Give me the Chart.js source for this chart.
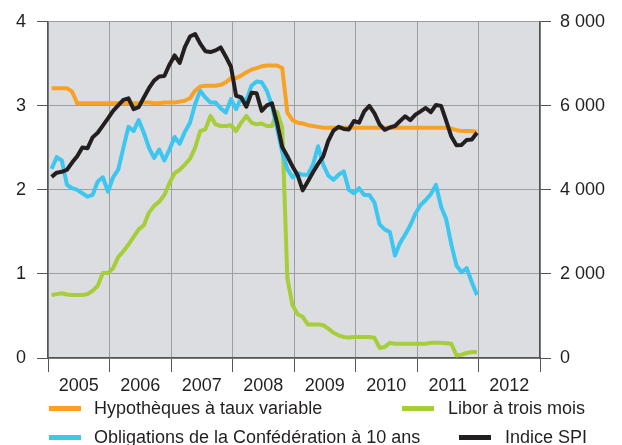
<!DOCTYPE html>
<html lang="fr">
<head>
<meta charset="utf-8">
<script src="https://cdn.jsdelivr.net/npm/chart.js@4.4.1/dist/chart.umd.min.js"></script>
<style>
  body { margin: 0; background: #fff; }
  #cadre { position: relative; width: 622px; height: 445px; }
  .legende { position: absolute; font: 18px "Liberation Sans", Arial, sans-serif; color: #231f20; white-space: nowrap; line-height: 20px; }
  .trait { position: absolute; width: 32px; height: 5px; }
</style>
</head>
<body>
<div id="cadre">
  <canvas id="graphique"></canvas>
</div>
<script>
// Données mensuelles, janvier 2005 à décembre 2011
const annees = ['2005', '2006', '2007', '2008', '2009', '2010', '2011', '2012'];

const hypotheques = [
  3.21, 3.21, 3.21, 3.21, 3.17, 3.03, 3.03, 3.03, 3.03, 3.03, 3.03, 3.03,
  3.03, 3.03, 3.03, 3.03, 3.03, 3.03, 3.04, 3.04, 3.03, 3.03, 3.04, 3.04,
  3.04, 3.05, 3.06, 3.09, 3.18, 3.23, 3.24, 3.24, 3.24, 3.25, 3.28, 3.33,
  3.33, 3.36, 3.40, 3.43, 3.45, 3.47, 3.48, 3.48, 3.48, 3.45, 2.92, 2.83,
  2.80, 2.79, 2.77, 2.76, 2.75, 2.74, 2.74, 2.74, 2.74, 2.74, 2.74, 2.74,
  2.74, 2.74, 2.74, 2.74, 2.74, 2.74, 2.74, 2.74, 2.74, 2.74, 2.74, 2.74,
  2.74, 2.74, 2.74, 2.74, 2.74, 2.74, 2.73, 2.71, 2.70, 2.70, 2.70, 2.69
];

const obligations = [
  2.25, 2.39, 2.35, 2.06, 2.02, 2.00, 1.96, 1.92, 1.94, 2.10, 2.15, 1.98,
  2.15, 2.24, 2.50, 2.75, 2.70, 2.83, 2.68, 2.50, 2.38, 2.48, 2.35, 2.48,
  2.63, 2.55, 2.69, 2.80, 3.02, 3.18, 3.10, 3.04, 3.04, 2.97, 2.92, 3.08,
  2.96, 3.10, 3.06, 3.24, 3.29, 3.28, 3.18, 3.00, 2.73, 2.45, 2.25, 2.15,
  2.20, 2.18, 2.18, 2.30, 2.52, 2.30, 2.17, 2.12, 2.18, 2.22, 2.00, 1.96,
  2.02, 1.94, 1.94, 1.85, 1.59, 1.53, 1.50, 1.22, 1.37, 1.47, 1.58, 1.72,
  1.82, 1.88, 1.95, 2.06, 1.80, 1.65, 1.35, 1.10, 1.02, 1.07, 0.90, 0.75
];

const libor = [
  0.75, 0.76, 0.77, 0.755, 0.75, 0.75, 0.75, 0.76, 0.80, 0.86, 1.01, 1.01,
  1.07, 1.20, 1.27, 1.35, 1.44, 1.53, 1.58, 1.73, 1.81, 1.86, 1.94, 2.08,
  2.20, 2.24, 2.30, 2.37, 2.50, 2.70, 2.72, 2.88, 2.78, 2.76, 2.76, 2.77,
  2.70, 2.80, 2.88, 2.80, 2.78, 2.79, 2.76, 2.76, 2.93, 2.74, 0.95, 0.63,
  0.52, 0.49, 0.40, 0.40, 0.40, 0.39, 0.35, 0.30, 0.27, 0.25, 0.245, 0.25,
  0.25, 0.25, 0.25, 0.24, 0.12, 0.13, 0.18, 0.17, 0.17, 0.17, 0.17, 0.17,
  0.17, 0.17, 0.18, 0.18, 0.18, 0.175, 0.17, 0.03, 0.04, 0.06, 0.07, 0.07
];

const indiceSPI = [
  4310, 4410, 4430, 4480, 4650, 4800, 5010, 4990, 5250, 5360, 5530, 5700,
  5880, 6010, 6140, 6180, 5920, 5970, 6200, 6420, 6600, 6700, 6710, 6980,
  7200, 7020, 7400, 7650, 7710, 7480, 7300, 7280, 7320, 7390, 7170, 6930,
  6240, 6200, 5980, 6310, 6300, 5880, 6010, 6060, 5600, 5020, 4800, 4560,
  4350, 3990, 4200, 4420, 4620, 4800, 5170, 5410, 5500, 5450, 5440, 5640,
  5600, 5870, 6000, 5820, 5560, 5430, 5485, 5520, 5640, 5750, 5660, 5790,
  5870, 5950, 5850, 6020, 6000, 5640, 5270, 5060, 5070, 5190, 5200, 5360
];

const noms = ['Hypothèques à taux variable', 'Obligations de la Confédération à 10 ans', 'Libor à trois mois', 'Indice SPI'];
const couleurs = ['#f7a125', '#3cc6f0', '#a6cd3a', '#231f20'];

// Position de chaque mois sur l'axe des années
const enPoints = (valeurs) => valeurs.map((v, i) => ({ x: 2005 + (i + 0.7) / 12, y: v }));

// Fond gris de la zone du graphique
const fondGris = {
  id: 'fondGris',
  beforeDraw(chart) {
    const { ctx, chartArea: a } = chart;
    ctx.save();
    ctx.fillStyle = '#dcdde0';
    ctx.fillRect(a.left, a.top, a.right - a.left, a.bottom - a.top);
    ctx.restore();
  }
};

const police = { family: '"Liberation Sans", Arial, sans-serif', size: 18 };
const gris = '#9d9ea0';
const foncé = '#555555';
const estMilieu = (v) => Math.abs(v % 1 - 0.5) < 0.01;

const serie = (idx, valeurs, axe, ordre) => ({
  label: noms[idx],
  data: enPoints(valeurs),
  borderColor: couleurs[idx],
  borderWidth: 4,
  pointRadius: 0,
  tension: 0,
  borderJoinStyle: 'round',
  yAxisID: axe,
  order: ordre
});

new Chart(document.getElementById('graphique'), {
  type: 'line',
  data: {
    datasets: [
      serie(3, indiceSPI, 'y2', 0),
      serie(0, hypotheques, 'y', 1),
      serie(1, obligations, 'y', 2),
      serie(2, libor, 'y', 3)
    ]
  },
  options: {
    responsive: true,
    maintainAspectRatio: false,
    animation: false,
    layout: { padding: { top: 18, left: 0, right: 0, bottom: 0 } },
    plugins: { legend: { display: false }, tooltip: { enabled: false } },
    scales: {
      x: {
        type: 'linear',
        min: 2005,
        max: 2013,
        afterBuildTicks: (scale) => {
          scale.ticks = [];
          for (let a = 2005; a <= 2013; a += 0.5) scale.ticks.push({ value: a });
        },
        afterFit: (scale) => { scale.height = 87; },
        ticks: {
          autoSkip: false,
          maxRotation: 0,
          padding: 3,
          color: '#231f20',
          font: police,
          callback: (v) => estMilieu(v) ? annees[Math.floor(v) - 2005] : ''
        },
        grid: {
          color: (c) => c.tick && estMilieu(c.tick.value) ? 'rgba(0,0,0,0)' : gris,
          tickColor: (c) => c.tick && estMilieu(c.tick.value) ? 'rgba(0,0,0,0)' : foncé,
          tickLength: 14
        },
        border: { color: foncé, width: 1.5 }
      },
      y: {
        position: 'left',
        min: 0,
        max: 4,
        afterFit: (scale) => { scale.width = 48; },
        ticks: { stepSize: 1, padding: 11, color: '#231f20', font: police },
        grid: { color: gris, tickColor: foncé, tickLength: 11 },
        border: { color: foncé, width: 1.5 }
      },
      y2: {
        position: 'right',
        min: 0,
        max: 8000,
        afterFit: (scale) => { scale.width = 82; },
        ticks: {
          stepSize: 2000,
          padding: 9,
          color: '#231f20',
          font: police,
          callback: (v) => v === 0 ? '0' : (v / 1000) + ' 000'
        },
        grid: { drawOnChartArea: false, tickColor: foncé, tickLength: 11 },
        border: { color: foncé, width: 1.5 }
      }
    }
  },
  plugins: [fondGris]
});

// Légende en deux lignes, construite à partir des noms et couleurs
const placesLegende = [
  { trait: 49, texte: 94, y: 408 },
  { trait: 49, texte: 94, y: 437 },
  { trait: 402, texte: 448, y: 408 },
  { trait: 459, texte: 505, y: 437 }
];
const cadre = document.getElementById('cadre');
noms.forEach((nom, i) => {
  const p = placesLegende[i];
  const trait = document.createElement('div');
  trait.className = 'trait';
  trait.style.left = p.trait + 'px';
  trait.style.top = (p.y - 2) + 'px';
  trait.style.background = couleurs[i];
  cadre.appendChild(trait);
  const texte = document.createElement('div');
  texte.className = 'legende';
  texte.style.left = p.texte + 'px';
  texte.style.top = (p.y - 10) + 'px';
  texte.textContent = nom;
  cadre.appendChild(texte);
});
</script>
</body>
</html>
